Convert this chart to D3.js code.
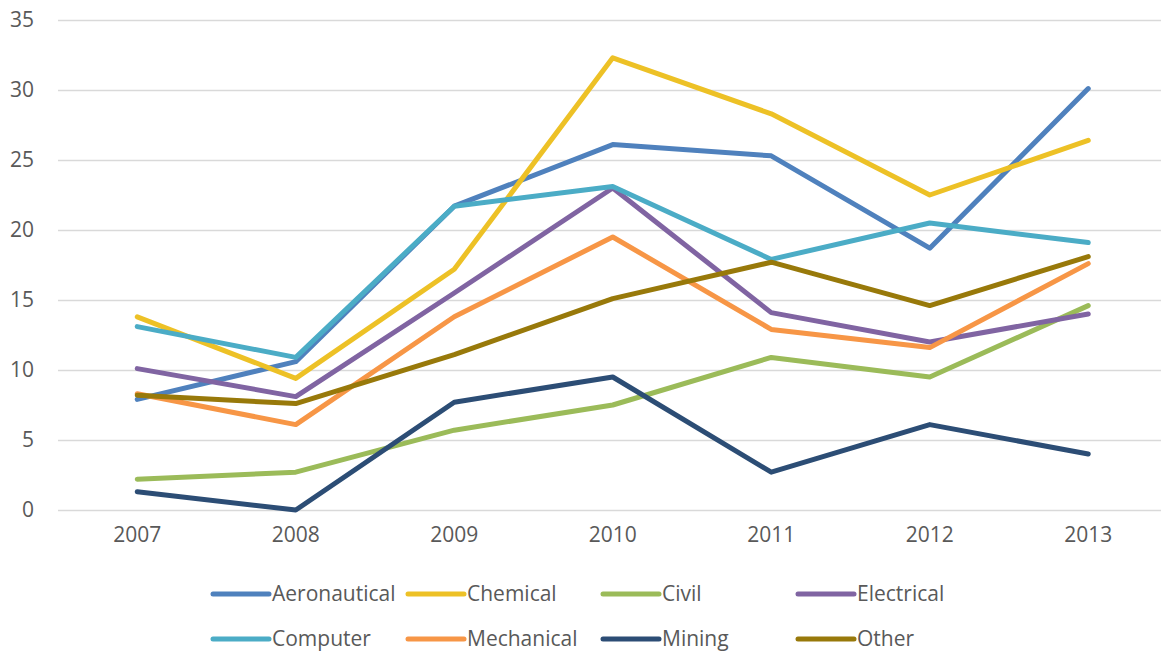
<!DOCTYPE html>
<html>
<head>
<meta charset="utf-8">
<script src="https://cdn.jsdelivr.net/npm/d3@7"></script>
<style>
  html, body { margin: 0; padding: 0; background: #fff; }
  svg { display: block; }
  text { font-family: "Open Sans", "Noto Sans", sans-serif; fill: #595959; }
</style>
</head>
<body>
<svg id="chart" width="1161" height="652"></svg>
<script>
// Years on the category axis
const years = ["2007", "2008", "2009", "2010", "2011", "2012", "2013"];

// Value-axis ticks
const yTicks = [0, 5, 10, 15, 20, 25, 30, 35];

// One array per discipline, one value per year
const aeronautical = [7.9, 10.6, 21.7, 26.1, 25.3, 18.7, 30.1];
const chemical     = [13.8, 9.4, 17.2, 32.3, 28.3, 22.5, 26.4];
const civil        = [2.2, 2.7, 5.7, 7.5, 10.9, 9.5, 14.6];
const electrical   = [10.1, 8.1, 15.5, 23.0, 14.1, 12.0, 14.0];
const computer     = [13.1, 10.9, 21.7, 23.1, 17.9, 20.5, 19.1];
const mechanical   = [8.3, 6.1, 13.8, 19.5, 12.9, 11.6, 17.6];
const mining       = [1.3, 0.0, 7.7, 9.5, 2.7, 6.1, 4.0];
const other        = [8.2, 7.6, 11.1, 15.1, 17.7, 14.6, 18.1];

const seriesNames  = ["Aeronautical", "Chemical", "Civil", "Electrical",
                      "Computer", "Mechanical", "Mining", "Other"];
const seriesValues = [aeronautical, chemical, civil, electrical,
                      computer, mechanical, mining, other];
const seriesColors = ["#4F81BD", "#EDC126", "#9BBB59", "#8064A2",
                      "#4BACC6", "#F79646", "#2C4D75", "#98790A"];

const series = seriesNames.map((name, i) => ({
  name, color: seriesColors[i], values: seriesValues[i]
}));

const FONT = 21;
const svg = d3.select("#chart");

const plot = { left: 58, right: 1167.5, top: 20, bottom: 510 };

const x = d3.scaleBand().domain(years).range([plot.left, plot.right]);
const xc = d => x(d) + x.bandwidth() / 2;
const y = d3.scaleLinear().domain([0, 35]).range([plot.bottom, plot.top]);

// Horizontal gridlines
const grid = d3.axisLeft(y).tickValues(yTicks)
  .tickSize(-(plot.right - plot.left)).tickFormat("");
svg.append("g")
  .attr("transform", `translate(${plot.left},0)`)
  .call(grid)
  .call(g => g.select(".domain").remove())
  .call(g => g.selectAll("line").attr("stroke", "#d9d9d9").attr("stroke-width", 1.5));

// Value-axis labels
const yAxis = d3.axisLeft(y).tickValues(yTicks).tickSize(0).tickPadding(0);
svg.append("g")
  .attr("transform", "translate(34,0)")
  .call(yAxis)
  .call(g => g.select(".domain").remove())
  .call(g => g.selectAll("text")
    .attr("font-size", FONT)
    .attr("font-family", "Open Sans, Noto Sans, sans-serif")
    .attr("fill", "#595959"));

// Year labels
const xAxis = d3.axisBottom(x).tickSize(0).tickPadding(0);
svg.append("g")
  .attr("transform", "translate(0,527)")
  .call(xAxis)
  .call(g => g.select(".domain").remove())
  .call(g => g.selectAll("text")
    .attr("font-size", FONT)
    .attr("font-family", "Open Sans, Noto Sans, sans-serif")
    .attr("fill", "#595959"));

// Series lines, drawn in legend order
const line = d3.line()
  .x((d, i) => xc(years[i]))
  .y(d => y(d));

svg.append("g")
  .selectAll("path")
  .data(series)
  .join("path")
  .attr("d", d => line(d.values))
  .attr("fill", "none")
  .attr("stroke", d => d.color)
  .attr("stroke-width", 5)
  .attr("stroke-linecap", "round")
  .attr("stroke-linejoin", "round");

// Legend: four columns, two rows
const legend = svg.append("g");
const colX = 213, colStep = 195, rowY = [594, 639];
series.forEach((s, i) => {
  const gx = colX + (i % 4) * colStep;
  const gy = rowY[Math.floor(i / 4)];
  const item = legend.append("g").attr("transform", `translate(${gx},${gy})`);
  item.append("line")
    .attr("x1", 0).attr("x2", 56)
    .attr("y1", 0).attr("y2", 0)
    .attr("stroke", s.color)
    .attr("stroke-width", 5)
    .attr("stroke-linecap", "round");
  item.append("text")
    .attr("x", 59)
    .attr("y", 0)
    .attr("dy", "0.35em")
    .attr("font-size", FONT)
    .text(s.name);
});
</script>
</body>
</html>
